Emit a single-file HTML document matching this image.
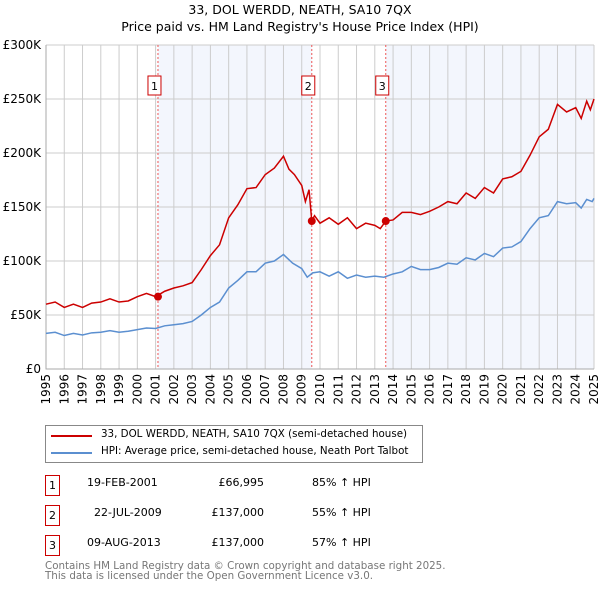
<!DOCTYPE html>
<html><head><meta charset="utf-8"><style>
body{margin:0;background:#fff;font-family:"DejaVu Sans","Liberation Sans",sans-serif;}
#wrap{position:relative;width:600px;height:590px;overflow:hidden}
.t{position:absolute;font-size:11px;color:#000;white-space:nowrap}
.box{position:absolute;border:1px solid #c00;width:13px;height:19px;font-size:11px;text-align:center;line-height:19px}
</style></head><body><div id="wrap">
<div class="t" style="left:0;width:600px;text-align:center;top:2px;font-size:12.5px">33, DOL WERDD, NEATH, SA10 7QX</div>
<div class="t" style="left:0;width:600px;text-align:center;top:19px;font-size:12.5px">Price paid vs. HM Land Registry's House Price Index (HPI)</div>
<svg id="chart" width="600" height="420" style="position:absolute;left:0;top:0"></svg>
<div style="position:absolute;left:45px;top:425px;width:376px;height:36px;border:1px solid #888">
<div style="position:absolute;left:5px;top:9px;width:41px;height:2px;background:#c00"></div>
<div class="t" style="left:55px;top:2px;font-size:10.3px">33, DOL WERDD, NEATH, SA10 7QX (semi-detached house)</div>
<div style="position:absolute;left:5px;top:26px;width:41px;height:2px;background:#5b8fd0"></div>
<div class="t" style="left:55px;top:19px;font-size:10.3px">HPI: Average price, semi-detached house, Neath Port Talbot</div>
</div>
<div id="tbl"></div>
<div class="t" style="left:45px;top:561px;color:#777;font-size:10.3px;line-height:10px">Contains HM Land Registry data © Crown copyright and database right 2025.<br>This data is licensed under the Open Government Licence v3.0.</div>
</div>
<script>
const hpiT=[1995,1995.5,1996,1996.5,1997,1997.5,1998,1998.5,1999,1999.5,2000,2000.5,2001,2001.5,2002,2002.5,2003,2003.5,2004,2004.5,2005,2005.5,2006,2006.5,2007,2007.5,2008,2008.5,2009,2009.3,2009.6,2010,2010.5,2011,2011.5,2012,2012.5,2013,2013.5,2014,2014.5,2015,2015.5,2016,2016.5,2017,2017.5,2018,2018.5,2019,2019.5,2020,2020.5,2021,2021.5,2022,2022.5,2023,2023.5,2024,2024.3,2024.6,2024.9,2025];
const hpiV=[33,34,31,33,31.5,33.5,34,35.5,34,35,36.5,38,37.5,40,41,42,44,50,57,62,75,82,90,90,98,100,106,98,93,85,89,90,86,90,84,87,85,86,85,88,90,95,92,92,94,98,97,103,101,107,104,112,113,118,130,140,142,155,153,154,149,157,155,158];
const redT=[1995,1995.5,1996,1996.5,1997,1997.5,1998,1998.5,1999,1999.5,2000,2000.5,2001,2001.5,2002,2002.5,2003,2003.5,2004,2004.5,2005,2005.5,2006,2006.5,2007,2007.5,2008,2008.3,2008.6,2009,2009.2,2009.4,2009.55,2009.7,2010,2010.5,2011,2011.5,2012,2012.5,2013,2013.3,2013.6,2014,2014.5,2015,2015.5,2016,2016.5,2017,2017.5,2018,2018.5,2019,2019.5,2020,2020.5,2021,2021.5,2022,2022.5,2023,2023.5,2024,2024.3,2024.6,2024.8,2025];
const redV=[60,62,57,60,57,61,62,65,62,63,67,70,67,72,75,77,80,92,105,115,140,152,167,168,180,186,197,185,180,170,155,166,137,142,135,140,134,140,130,135,133,130,137,138,145,145,143,146,150,155,153,163,158,168,163,176,178,183,198,215,222,245,238,242,232,248,240,250];
const saleT=[2001.13,2009.55,2013.6];
const saleV=[66.995,137,137];
const saleLabels=["1","2","3"];
const saleDates=["19-FEB-2001","22-JUL-2009","09-AUG-2013"];
const salePrices=["£66,995","£137,000","£137,000"];
const saleHpi=["85% ↑ HPI","55% ↑ HPI","57% ↑ HPI"];
const yTicks=[0,50,100,150,200,250,300];
const yTickLabels=["£0","£50K","£100K","£150K","£200K","£250K","£300K"];
const X0=46,X1=594,Y0=369,Y1=45;
const xs=t=>X0+(t-1995)/30*(X1-X0);
const ys=v=>Y0-v/300*(Y0-Y1);
const NS="http://www.w3.org/2000/svg",svg=document.getElementById('chart');
function mk(tag,a){const e=document.createElementNS(NS,tag);for(const k in a)e.setAttribute(k,a[k]);svg.appendChild(e);return e;}
let r=mk('rect',{x:xs(saleT[0]),y:Y1,width:xs(saleT[1])-xs(saleT[0]),height:Y0-Y1,fill:'#f3f6fd'});

r=mk('rect',{x:xs(saleT[2]),y:Y1,width:X1-xs(saleT[2]),height:Y0-Y1,fill:'#f3f6fd'});

for(let y=1995;y<=2025;y++){const l=mk('line',{x1:xs(y),x2:xs(y),y1:Y1,y2:Y0,stroke:'#ccc'});

const t=mk('text',{x:0,y:0,'font-size':12,'text-anchor':'end',transform:`translate(${xs(y)+4},${Y0+5}) rotate(-90)`,'font-family':'DejaVu Sans,sans-serif'});t.textContent=y;
}
yTicks.forEach((v,i)=>{const l=mk('line',{x1:X0,x2:X1,y1:ys(v),y2:ys(v),stroke:'#ccc'});

const t=mk('text',{x:X0-5,y:ys(v)+4,'font-size':12,'text-anchor':'end','font-family':'DejaVu Sans,sans-serif'});t.textContent=yTickLabels[i];
});
const ax=mk('path',{d:`M${X0},${Y1}V${Y0}H${X1}`,fill:'none',stroke:'#aaa'});

saleT.forEach((t,i)=>{const l=mk('line',{x1:xs(t),x2:xs(t),y1:Y1,y2:Y0,stroke:'#e55','stroke-dasharray':'2,2'});
});
function line(T,V,c,n){const p=mk('polyline',{points:T.map((t,i)=>xs(t)+','+ys(V[i])).join(' '),fill:'none',stroke:c,'stroke-width':1.5});
}
line(hpiT,hpiV,'#5b8fd0','hpi-line');line(redT,redV,'#c00','property-line');
saleT.forEach((t,i)=>{const c=mk('circle',{cx:xs(t),cy:ys(saleV[i]),r:4,fill:'#c00'});

const b=mk('rect',{x:xs(t)-10,y:76,width:13,height:19,fill:'#fff',stroke:'#c00'});

const tx=mk('text',{x:xs(t)-3.5,y:90,'font-size':11,'text-anchor':'middle','font-family':'DejaVu Sans,sans-serif'});tx.textContent=saleLabels[i];
});
const tbl=document.getElementById('tbl');
saleT.forEach((t,i)=>{const y=484+i*30;
const row=document.createElement('div');
row.innerHTML=`<div class="box" style="left:45px;top:${y-9}px">${saleLabels[i]}</div>
<div class="t" style="left:${i==1?94:87}px;top:${y-8}px">${saleDates[i]}</div>
<div class="t" style="right:336px;top:${y-8}px">${salePrices[i]}</div>
<div class="t" style="left:312px;top:${y-8}px">${saleHpi[i]}</div>`;tbl.appendChild(row);});
</script></body></html>
